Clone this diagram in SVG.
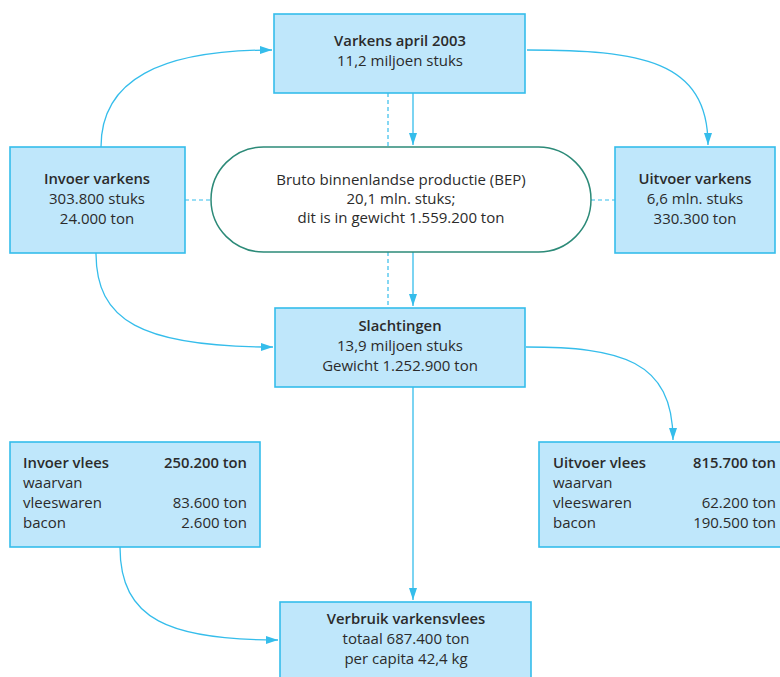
<svg xmlns="http://www.w3.org/2000/svg" width="780" height="677" viewBox="0 0 780 677">
  <style>
    .box { fill: #bfe7fb; stroke: #35bdeb; stroke-width: 1.6; }
    .pill { fill: #ffffff; stroke: #2c8a78; stroke-width: 1.5; }
    .t { font-family: "Open Sans", "Noto Sans", sans-serif; font-size: 15px; fill: #2b2b2b; }
    .c { text-anchor: middle; }
    .r { text-anchor: end; }
    .b { font-weight: 600; font-size: 14.8px; }
    .link { fill: none; stroke: #35bdeb; stroke-width: 1.3; }
    .dash { fill: none; stroke: #35bdeb; stroke-width: 1.2; stroke-dasharray: 4 3; }
  </style>
  <defs>
    <marker id="arrow" viewBox="0 0 12 10" refX="12" refY="5" markerWidth="12" markerHeight="10" markerUnits="userSpaceOnUse" orient="auto">
      <path d="M0,1 L12,5 L0,9 Z" fill="#35bdeb"/>
    </marker>
  </defs>
  <rect width="780" height="677" fill="#ffffff"/>

  <g id="connectors">
    <path class="link" d="M101,147 C101,80 160,50 272,50" marker-end="url(#arrow)"/>
    <path class="link" d="M527,50 C640,50 708,60 708,145" marker-end="url(#arrow)"/>
    <path class="dash" d="M388,93 L388,147"/>
    <path class="link" d="M413,93 L413,145" marker-end="url(#arrow)"/>
    <path class="dash" d="M388,252 L388,308"/>
    <path class="link" d="M413,252 L413,306" marker-end="url(#arrow)"/>
    <path class="dash" d="M185,200 L211,200"/>
    <path class="dash" d="M591,200 L615,200"/>
    <path class="link" d="M96,253 C96,320 140,347 273,347" marker-end="url(#arrow)"/>
    <path class="link" d="M526,347 C620,347 673,360 673,440" marker-end="url(#arrow)"/>
    <path class="link" d="M413,387 L413,600" marker-end="url(#arrow)"/>
    <path class="link" d="M120,547 C120,620 170,640 278,640" marker-end="url(#arrow)"/>
  </g>

  <g id="varkens-april">
    <rect class="box" x="274" y="14" width="251" height="79"/>
    <text class="t c b" x="400" y="46">Varkens april 2003</text>
    <text class="t c" x="400" y="66">11,2 miljoen stuks</text>
  </g>

  <g id="invoer-varkens">
    <rect class="box" x="10" y="147" width="175" height="106"/>
    <text class="t c b" x="97" y="184">Invoer varkens</text>
    <text class="t c" x="97" y="204">303.800 stuks</text>
    <text class="t c" x="97" y="224">24.000 ton</text>
  </g>

  <g id="bep">
    <rect class="pill" x="211" y="147" width="380" height="105" rx="52.5" ry="52.5"/>
    <text class="t c" x="401" y="185">Bruto binnenlandse productie (BEP)</text>
    <text class="t c" x="401" y="204">20,1 mln. stuks;</text>
    <text class="t c" x="401" y="223">dit is in gewicht 1.559.200 ton</text>
  </g>

  <g id="uitvoer-varkens">
    <rect class="box" x="615" y="147" width="160" height="106"/>
    <text class="t c b" x="695" y="184">Uitvoer varkens</text>
    <text class="t c" x="695" y="204">6,6 mln. stuks</text>
    <text class="t c" x="695" y="224">330.300 ton</text>
  </g>

  <g id="slachtingen">
    <rect class="box" x="275" y="308" width="250" height="79"/>
    <text class="t c b" x="400" y="331">Slachtingen</text>
    <text class="t c" x="400" y="351">13,9 miljoen stuks</text>
    <text class="t c" x="400" y="371">Gewicht 1.252.900 ton</text>
  </g>

  <g id="invoer-vlees">
    <rect class="box" x="10" y="442" width="250" height="105"/>
    <text class="t b" x="23" y="468">Invoer vlees</text>
    <text class="t r b" x="247" y="468">250.200 ton</text>
    <text class="t" x="23" y="488">waarvan</text>
    <text class="t" x="23" y="508">vleeswaren</text>
    <text class="t r" x="247" y="508">83.600 ton</text>
    <text class="t" x="23" y="528">bacon</text>
    <text class="t r" x="247" y="528">2.600 ton</text>
  </g>

  <g id="uitvoer-vlees">
    <rect class="box" x="539" y="442" width="250" height="105"/>
    <text class="t b" x="553" y="468">Uitvoer vlees</text>
    <text class="t r b" x="776" y="468">815.700 ton</text>
    <text class="t" x="553" y="488">waarvan</text>
    <text class="t" x="553" y="508">vleeswaren</text>
    <text class="t r" x="776" y="508">62.200 ton</text>
    <text class="t" x="553" y="528">bacon</text>
    <text class="t r" x="776" y="528">190.500 ton</text>
  </g>

  <g id="verbruik">
    <rect class="box" x="280" y="602" width="251" height="90"/>
    <text class="t c b" x="406" y="624">Verbruik varkensvlees</text>
    <text class="t c" x="406" y="644">totaal 687.400 ton</text>
    <text class="t c" x="406" y="664">per capita 42,4 kg</text>
  </g>
</svg>
